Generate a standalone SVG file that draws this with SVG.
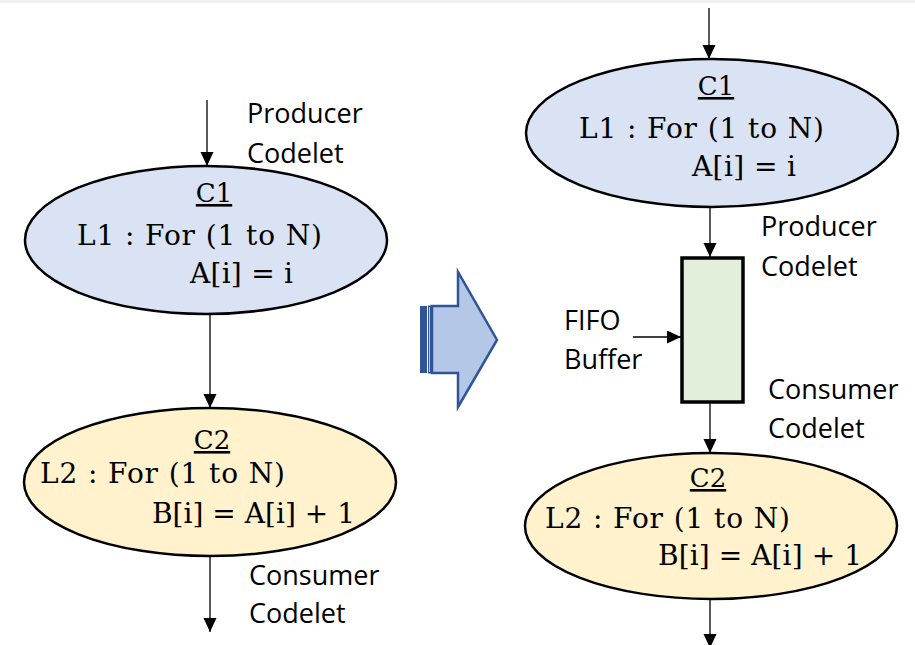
<svg xmlns="http://www.w3.org/2000/svg" width="915" height="645" viewBox="0 0 915 645">
<defs>
<marker id="ah" markerUnits="userSpaceOnUse" markerWidth="14" markerHeight="17" refX="14" refY="6.5" orient="auto">
<path d="M0,0 L14,6.5 L0,13 Z" fill="#000"/>
</marker>
<style>
.lbl{font-family:"Open Sans","Liberation Sans",sans-serif;font-size:27px;fill:#000}
.code{font-family:"DejaVu Serif","Liberation Serif",serif;font-size:28px;fill:#000}
.ttl{text-decoration:underline;font-size:26px}
.blue{fill:#dae3f3;stroke:#000;stroke-width:2.5}
.yel{fill:#fff2cc;stroke:#000;stroke-width:2.5}
.conn{stroke:#000;stroke-width:1.3;fill:none;marker-end:url(#ah)}
</style>
</defs>
<rect x="0" y="0" width="915" height="645" fill="#fff"/>
<rect x="0" y="0" width="915" height="3" fill="#f2f2f2"/>

<g id="connectors">
<line class="conn" x1="207" y1="100" x2="207" y2="166"/>
<line class="conn" x1="210" y1="314" x2="210" y2="408"/>
<line class="conn" x1="210" y1="556" x2="210" y2="632"/>
<line class="conn" x1="709" y1="8" x2="709" y2="59"/>
<line class="conn" x1="710" y1="207" x2="710" y2="257"/>
<line class="conn" x1="633" y1="337" x2="681" y2="337"/>
<line class="conn" x1="710" y1="402" x2="710" y2="453"/>
<line class="conn" x1="710" y1="599" x2="710" y2="648"/>
</g>

<g id="left-c1">
<ellipse class="blue" cx="206" cy="240" rx="181" ry="74"/>
<text class="code ttl" x="214" y="202" text-anchor="middle">C1</text>
<text class="code" x="77" y="245" textLength="245" lengthAdjust="spacing">L1 : For (1 to N)</text>
<text class="code" x="190" y="283" textLength="103" lengthAdjust="spacing">A[i] = i</text>
</g>
<g id="left-c2">
<ellipse class="yel" cx="210" cy="482" rx="186" ry="74"/>
<text class="code ttl" x="212" y="449" text-anchor="middle">C2</text>
<text class="code" x="40" y="483" textLength="245" lengthAdjust="spacing">L2 : For (1 to N)</text>
<text class="code" x="152" y="523" textLength="203" lengthAdjust="spacing">B[i] = A[i] + 1</text>
</g>
<g id="left-labels">
<text class="lbl" x="247" y="123">Producer</text>
<text class="lbl" x="247" y="163">Codelet</text>
<text class="lbl" x="249" y="585">Consumer</text>
<text class="lbl" x="249" y="623">Codelet</text>
</g>

<g id="transform-arrow">
<rect x="420" y="306" width="7" height="67" fill="#2f5597"/>
<rect x="428.5" y="306" width="2" height="67" fill="#b4c7e7" stroke="#2f5597" stroke-width="1"/>
<polygon points="432,306 458,306 458,272 497,340 458,407 458,373 432,373" fill="#b4c7e7" stroke="#2f5597" stroke-width="2.5" stroke-linejoin="miter"/>
</g>

<g id="right-c1">
<ellipse class="blue" cx="712" cy="133" rx="186" ry="74"/>
<text class="code ttl" x="716" y="95" text-anchor="middle">C1</text>
<text class="code" x="579" y="138" textLength="245" lengthAdjust="spacing">L1 : For (1 to N)</text>
<text class="code" x="692" y="176" textLength="104" lengthAdjust="spacing">A[i] = i</text>
</g>
<g id="fifo">
<rect x="682" y="258" width="61" height="144" fill="#e2efda" stroke="#000" stroke-width="3.5"/>
</g>
<g id="right-c2">
<ellipse class="yel" cx="711" cy="526" rx="186" ry="73"/>
<text class="code ttl" x="708" y="487" text-anchor="middle">C2</text>
<text class="code" x="545" y="528" textLength="245" lengthAdjust="spacing">L2 : For (1 to N)</text>
<text class="code" x="658" y="565" textLength="204" lengthAdjust="spacing">B[i] = A[i] + 1</text>
</g>
<g id="right-labels">
<text class="lbl" x="761" y="236">Producer</text>
<text class="lbl" x="761" y="276">Codelet</text>
<text class="lbl" x="564" y="330">FIFO</text>
<text class="lbl" x="564" y="369">Buffer</text>
<text class="lbl" x="768" y="399">Consumer</text>
<text class="lbl" x="768" y="438">Codelet</text>
</g>
</svg>
